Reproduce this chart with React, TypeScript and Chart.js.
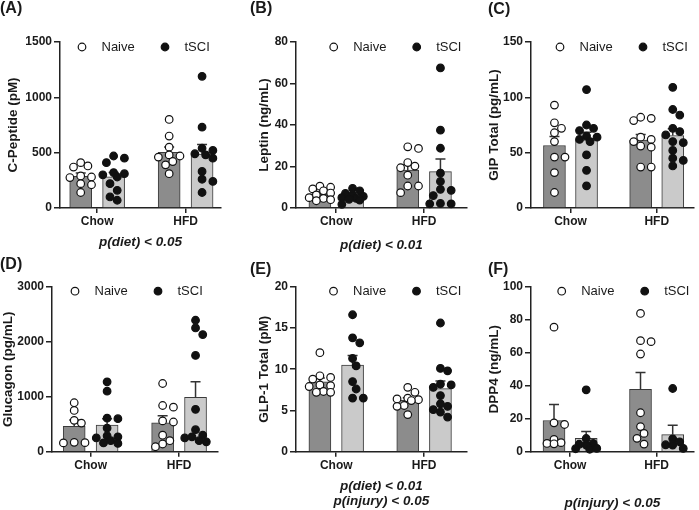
import React, { useEffect, useRef } from 'react';
import { Chart, registerables } from 'chart.js';
Chart.register(...registerables);

const groups = ['Chow', 'HFD'];
const seriesNames = ['Naive', 'tSCI'];

// (A) C-Peptide (pM)
const cPeptideChowNaive = [410, 380, 370, 290, 280, 275, 220, 210, 140];
const cPeptideChowTSCI = [470, 450, 410, 320, 310, 300, 280, 220, 160, 100, 70];
const cPeptideHfdNaive = [800, 650, 550, 480, 470, 460, 420, 390, 310];
const cPeptideHfdTSCI = [1190, 730, 540, 520, 490, 480, 450, 330, 260, 240, 140];
const cPeptideTicks = [0, 1500, 500];

// (B) Leptin (ng/mL)
const leptinChowNaive = [10.5, 10.0, 9.2, 8.3, 7.2, 6.3, 5.0, 4.6, 4.0, 3.5];
const leptinChowTSCI = [9.5, 8.3, 7.0, 6.2, 5.6, 5.0, 4.6, 4.2, 3.8, 1.8];
const leptinHfdNaive = [29.5, 28.7, 21.9, 20.2, 19.4, 15.8, 10.6, 10.6, 7.4];
const leptinHfdTSCI = [67.5, 37.5, 28.8, 16.8, 12.8, 9.0, 8.5, 6.0, 2.2, 2.0, 2.0];
const leptinTicks = [0, 80, 20];

// (C) GIP Total (pg/mL)
const gipChowNaive = [93, 77, 72, 68, 60, 46, 46, 32, 14];
const gipChowTSCI = [107, 75, 72, 70, 65, 64, 62, 60, 48, 34, 20];
const gipHfdNaive = [82, 81, 79, 64, 62, 60, 56, 55, 37, 37];
const gipHfdTSCI = [109, 89, 84, 72, 69, 66, 60, 59, 52, 45, 43, 38];
const gipTicks = [0, 150, 50];

// (D) Glucagon (pg/mL)
const glucagonChowNaive = [890, 750, 570, 520, 170, 165, 160];
const glucagonChowTSCI = [1270, 1100, 610, 600, 430, 290, 270, 250, 200, 160, 150];
const glucagonHfdNaive = [1240, 840, 810, 560, 540, 300, 200, 140, 90];
const glucagonHfdTSCI = [2390, 2250, 2130, 1750, 770, 400, 300, 270, 250, 200, 180];
const glucagonTicks = [0, 3000, 1000];

// (E) GLP-1 Total (pM)
const glp1ChowNaive = [12.0, 9.2, 9.0, 8.8, 8.1, 8.0, 7.9, 7.3, 7.2, 7.2];
const glp1ChowTSCI = [16.6, 13.8, 13.2, 11.3, 10.4, 8.5, 7.6, 6.5, 6.5];
const glp1HfdNaive = [7.8, 7.2, 6.5, 6.4, 6.3, 6.2, 5.6, 5.5, 4.5];
const glp1HfdTSCI = [15.6, 10.1, 9.8, 8.2, 8.1, 7.8, 6.8, 5.8, 5.5, 5.1, 4.8, 4.2];
const glp1Ticks = [0, 20, 5];

// (F) DPP4 (ng/mL)
const dpp4ChowNaive = [75.5, 17.5, 16.5, 7.5, 5.5, 5.0, 4.8];
const dpp4ChowTSCI = [37.5, 8.0, 5.0, 4.5, 4.0, 2.0, 1.8, 1.5];
const dpp4HfdNaive = [83.8, 67.3, 66.7, 59.2, 23.6, 15.2, 11.1, 8.1, 4.6];
const dpp4HfdTSCI = [38.3, 7.8, 6.0, 4.2, 4.0, 2.0];
const dpp4Ticks = [0, 100, 20];

const FONT = '"Liberation Sans", Arial, Helvetica, sans-serif';
const INK = '#1a1a1a';

type PanelCfg = {
  label: string;
  yTitle: string;
  ticks: number[];
  naive: number[][];
  tsci: number[][];
  note: string[] | null;
  left: number; top: number; w: number; h: number;
  yAxisW: number; padTop: number; padRight: number; xAxisH: number;
  xMin: number; xMax: number; yTitlePad: number; notePad: number;
  legendX: number; legendDy: number;
  labelLeft: number; labelTop: number;
};

const panels: PanelCfg[] = [
  { label: '(A)', yTitle: 'C-Peptide (pM)', ticks: cPeptideTicks,
    naive: [cPeptideChowNaive, cPeptideHfdNaive], tsci: [cPeptideChowTSCI, cPeptideHfdTSCI],
    note: ['p(diet) < 0.05'],
    left: 0, top: 0, w: 233, h: 255, yAxisW: 60, padTop: 42, padRight: 12, xAxisH: 47,
    xMin: -0.42, xMax: 1.4, yTitlePad: 5, notePad: 6, legendX: 22, legendDy: 5, labelLeft: 0, labelTop: -1.5 },
  { label: '(B)', yTitle: 'Leptin (ng/mL)', ticks: leptinTicks,
    naive: [leptinChowNaive, leptinHfdNaive], tsci: [leptinChowTSCI, leptinHfdTSCI],
    note: ['p(diet) < 0.01'],
    left: 236, top: 0, w: 236, h: 255, yAxisW: 60, padTop: 42, padRight: 4, xAxisH: 47,
    xMin: -0.458, xMax: 1.486, yTitlePad: 20.5, notePad: 3, legendX: 37.7, legendDy: 5, labelLeft: 250, labelTop: -1.5 },
  { label: '(C)', yTitle: 'GIP Total (pg/mL)', ticks: gipTicks,
    naive: [gipChowNaive, gipHfdNaive], tsci: [gipChowTSCI, gipHfdTSCI],
    note: null,
    left: 472, top: 0, w: 227, h: 255, yAxisW: 59, padTop: 42, padRight: 1, xAxisH: 47,
    xMin: -0.458, xMax: 1.43, yTitlePad: 14, notePad: 0, legendX: 29, legendDy: 5, labelLeft: 488, labelTop: 0 },
  { label: '(D)', yTitle: 'Glucagon (pg/mL)', ticks: glucagonTicks,
    naive: [glucagonChowNaive, glucagonHfdNaive], tsci: [glucagonChowTSCI, glucagonHfdTSCI],
    note: null,
    left: 0, top: 255, w: 233, h: 255, yAxisW: 52, padTop: 31.7, padRight: 15, xAxisH: 58.3,
    xMin: -0.437, xMax: 1.44, yTitlePad: 0, notePad: 0, legendX: 23, legendDy: 4.5, labelLeft: 0, labelTop: 255 },
  { label: '(E)', yTitle: 'GLP-1 Total (pM)', ticks: glp1Ticks,
    naive: [glp1ChowNaive, glp1HfdNaive], tsci: [glp1ChowTSCI, glp1HfdTSCI],
    note: ['p(diet) < 0.01', 'p(injury) < 0.05'],
    left: 236, top: 255, w: 236, h: 255, yAxisW: 60, padTop: 31.7, padRight: 4, xAxisH: 58.3,
    xMin: -0.458, xMax: 1.486, yTitlePad: 20.5, notePad: 2, legendX: 37.5, legendDy: 4.5, labelLeft: 250, labelTop: 259.5 },
  { label: '(F)', yTitle: 'DPP4 (ng/mL)', ticks: dpp4Ticks,
    naive: [dpp4ChowNaive, dpp4HfdNaive], tsci: [dpp4ChowTSCI, dpp4HfdTSCI],
    note: ['p(injury) < 0.05'],
    left: 472, top: 255, w: 227, h: 255, yAxisW: 59, padTop: 31.7, padRight: 1, xAxisH: 58.3,
    xMin: -0.452, xMax: 1.43, yTitlePad: 14, notePad: 0, legendX: 30.7, legendDy: 4.5, labelLeft: 488, labelTop: 259.5 },
];

const mean = (a: number[]) => a.reduce((s, v) => s + v, 0) / a.length;
const sem = (a: number[]) => {
  const m = mean(a);
  const v = a.reduce((s, x) => s + (x - m) * (x - m), 0) / (a.length - 1);
  return Math.sqrt(v) / Math.sqrt(a.length);
};

// deterministic beeswarm spread (pixel-space approximation), kept near the bar
function swarmOffsets(values: number[], yMax: number): number[] {
  const plotH = 166, unitPx = 88.5, d = 7.6, step = 3.6, maxOff = 11;
  const idx = values.map((_, i) => i).sort((a, b) => values[b] - values[a]);
  const placed: { x: number; y: number }[] = [];
  const out = new Array(values.length).fill(0);
  const cands = [0];
  for (let k = 1; k * step <= maxOff + 0.01; k++) cands.push(k * step, -k * step);
  for (const i of idx) {
    const y = (values[i] / yMax) * plotH;
    let best = 0, bestScore = -1;
    for (const c of cands) {
      const dmin = placed.length ? Math.min(...placed.map(p => Math.hypot(p.x - c, p.y - y))) : Infinity;
      if (dmin >= d) { best = c; break; }
      if (dmin > bestScore) { bestScore = dmin; best = c; }
    }
    placed.push({ x: best, y });
    out[i] = best / unitPx;
  }
  return out;
}

const errorBarPlugin = {
  id: 'semBars',
  afterDatasetDraw(chart: any, args: any) {
    const ds = chart.data.datasets[args.index];
    if (!ds.sem) return;
    const ctx = chart.ctx;
    const yScale = chart.scales.y;
    ctx.save();
    ctx.strokeStyle = '#333';
    ctx.lineWidth = 1.5;
    args.meta.data.forEach((el: any, i: number) => {
      const top = yScale.getPixelForValue(ds.data[i].y + ds.sem[i]);
      ctx.beginPath();
      ctx.moveTo(el.x, el.y);
      ctx.lineTo(el.x, top);
      ctx.moveTo(el.x - 5, top);
      ctx.lineTo(el.x + 5, top);
      ctx.stroke();
    });
    ctx.restore();
  },
};

const insideLegendPlugin = {
  id: 'insideLegend',
  afterDraw(chart: any, _args: any, opts: any) {
    const { ctx, chartArea } = chart;
    const y = chartArea.top + opts.dy;
    const pts = chart.data.datasets.filter((d: any) => d.type === 'scatter');
    ctx.save();
    pts.forEach((d: any, i: number) => {
      const x = chartArea.left + opts.x + i * 83;
      ctx.beginPath();
      ctx.arc(x, y, 3.8, 0, Math.PI * 2);
      ctx.fillStyle = d.pointBackgroundColor;
      ctx.fill();
      ctx.lineWidth = 1.2;
      ctx.strokeStyle = d.pointBorderColor;
      ctx.stroke();
      ctx.fillStyle = INK;
      ctx.font = `13px ${FONT}`;
      ctx.textBaseline = 'middle';
      ctx.textAlign = 'left';
      ctx.fillText(d.label, x + 19.5, y + 0.5);
    });
    ctx.restore();
  },
};

function PanelChart({ p }: { p: PanelCfg }) {
  const ref = useRef<HTMLCanvasElement>(null);
  useEffect(() => {
    const off = 0.186;
    const [yMin, yMax, yStep] = p.ticks;
    const barSet = (vals: number[][], sign: number, name: string, fill: string) => ({
      type: 'bar' as const,
      label: name + ' mean',
      data: groups.map((_, gi) => ({ x: gi + sign * off, y: mean(vals[gi]) })),
      sem: groups.map((_, gi) => sem(vals[gi])),
      backgroundColor: fill,
      borderColor: '#3a3a3a',
      borderWidth: 1,
      borderSkipped: 'bottom',
      barThickness: 22,
      grouped: false,
      order: 2,
    });
    const ptSet = (vals: number[][], sign: number, name: string, fill: string) => ({
      type: 'scatter' as const,
      label: name,
      data: groups.flatMap((_, gi) => {
        const sw = swarmOffsets(vals[gi], yMax);
        return vals[gi].map((v, j) => ({ x: gi + sign * off + sw[j], y: v }));
      }),
      pointRadius: 3.8,
      pointBorderWidth: 1.2,
      pointBackgroundColor: fill,
      pointBorderColor: '#111',
      showLine: false,
      clip: false,
      order: 1,
    });
    const chart = new Chart(ref.current!, {
      data: {
        datasets: [
          barSet(p.naive, -1, seriesNames[0], '#8c8c8c'),
          barSet(p.tsci, 1, seriesNames[1], '#cacaca'),
          ptSet(p.naive, -1, seriesNames[0], '#ffffff'),
          ptSet(p.tsci, 1, seriesNames[1], '#111111'),
        ] as any,
      },
      options: {
        animation: false,
        responsive: false,
        maintainAspectRatio: false,
        layout: { padding: { top: p.padTop, right: p.padRight, left: 0, bottom: 0 } },
        plugins: {
          legend: { display: false },
          tooltip: { enabled: false },
          insideLegend: { x: p.legendX, dy: p.legendDy },
        } as any,
        scales: {
          x: {
            type: 'linear',
            offset: false,
            min: p.xMin,
            max: p.xMax,
            afterBuildTicks: (s: any) => { s.ticks = groups.map((_, i) => ({ value: i })); },
            afterFit: (s: any) => { s.height = p.xAxisH; },
            ticks: {
              callback: (v: any) => groups[v] ?? '',
              font: { family: FONT, size: 12, weight: 'bold' },
              color: INK,
              padding: 1.5,
              maxRotation: 0,
              autoSkip: false,
            },
            grid: { offset: false, drawOnChartArea: false, drawTicks: true, tickLength: 5, color: '#222', lineWidth: 1.5 },
            border: { display: true, color: '#222', width: 1.5 },
            title: {
              display: !!p.note,
              text: p.note ?? '',
              font: { family: FONT, size: 13.5, weight: 'bold', style: 'italic', lineHeight: 1.06 },
              color: INK,
              padding: { top: 0, bottom: p.notePad },
            },
          },
          y: {
            type: 'linear',
            min: yMin,
            max: yMax,
            afterFit: (s: any) => { s.width = p.yAxisW; },
            ticks: {
              stepSize: yStep,
              callback: (v: any) => String(v),
              font: { family: FONT, size: 12, weight: 'bold' },
              color: INK,
              padding: 2,
            },
            grid: { drawOnChartArea: false, drawTicks: true, tickLength: 6, color: '#222', lineWidth: 1.5 },
            border: { display: true, color: '#222', width: 1.5 },
            title: {
              display: true,
              text: p.yTitle,
              font: { family: FONT, size: 13.5, weight: 'bold' },
              color: INK,
              padding: { top: p.yTitlePad, bottom: 0 },
            },
          },
        },
      } as any,
      plugins: [errorBarPlugin, insideLegendPlugin],
    });
    return () => chart.destroy();
  }, [p]);
  return (
    <canvas
      ref={ref}
      width={p.w}
      height={p.h}
      style={{ position: 'absolute', left: p.left, top: p.top, width: p.w, height: p.h }}
    />
  );
}

export default function App() {
  return (
    <div style={{ position: 'absolute', left: 0, top: 0, width: 699, height: 510, background: '#ffffff', overflow: 'hidden' }}>
      {panels.map(p => (
        <React.Fragment key={p.label}>
          <PanelChart p={p} />
          <div
            style={{
              position: 'absolute', left: p.labelLeft, top: p.labelTop,
              font: `bold 16px ${FONT}`, lineHeight: '18px', color: INK,
            }}
          >
            {p.label}
          </div>
        </React.Fragment>
      ))}
    </div>
  );
}
